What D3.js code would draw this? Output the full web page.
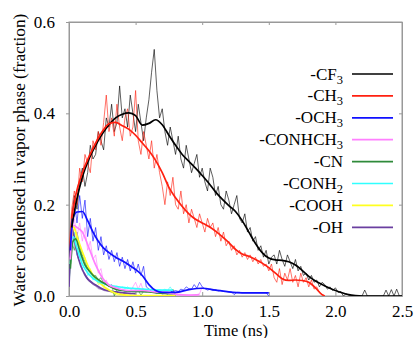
<!DOCTYPE html>
<html><head><meta charset="utf-8">
<script src="https://cdn.jsdelivr.net/npm/d3@7"></script>
<style>body{margin:0;background:#fff}svg{display:block}text{font-family:"Liberation Serif","Times New Roman","DejaVu Serif",serif;fill:#000}</style>
</head><body><svg id="c" width="414" height="338"></svg>
<script>
// ---- data ----
const xTicks = [0.0, 0.5, 1.0, 1.5, 2.0, 2.5];
const yTicks = [0.0, 0.2, 0.4, 0.6];
const seriesNames = ["-CF", "-CH", "-OCH", "-CONHCH", "-CN", "-CONH", "-COOH", "-OH"];
const seriesSubs = ["3", "3", "3", "3", "", "2", "", ""];
const seriesColors = ["#000000", "#ff2010", "#1010ff", "#ff80ff", "#2f8a3a", "#30ffff", "#ffff20", "#6a3fa0"];
const rawStep = 0.02;
// raw (sampled every 0.02 ns from t = 0)
const rawCF3 = [0.08,0.17,0.22,0.19,0.25,0.28,0.24,0.27,0.33,0.30,0.31,0.36,0.34,0.32,0.39,0.37,0.42,0.36,0.38,0.46,
  0.39,0.41,0.37,0.44,0.40,0.36,0.42,0.38,0.34,0.39,0.43,0.49,0.54,0.45,0.39,0.41,0.36,0.33,0.37,0.34,
  0.31,0.35,0.30,0.28,0.33,0.30,0.27,0.29,0.31,0.26,0.28,0.25,0.23,0.28,0.26,0.22,0.24,0.20,0.19,0.23,
  0.21,0.18,0.20,0.22,0.17,0.16,0.18,0.14,0.15,0.12,0.13,0.10,0.11,0.085,0.10,0.07,0.085,0.09,0.07,0.10,
  0.08,0.065,0.09,0.075,0.06,0.08,0.055,0.065,0.045,0.05,0.035,0.045,0.03,0.035,0.02,0.03,0.025,0.015,0.02,0.012,
  0.018,0.008,0.01,0.0,0.005,0.002,0.0,0.0,0.0,0.0,0.0,0.013,0.0,0.0,0.0,0.0,0.0,0.0,0.0,0.013,
  0.0,0.014,0.0,0.015,0.0,0.0];
const rawCH3 = [0.10,0.19,0.23,0.20,0.28,0.25,0.31,0.29,0.27,0.34,0.32,0.36,0.33,0.38,0.44,0.36,0.39,0.35,0.42,0.37,
  0.34,0.39,0.41,0.35,0.37,0.45,0.34,0.31,0.36,0.33,0.30,0.34,0.28,0.31,0.27,0.24,0.20,0.25,0.22,0.26,
  0.20,0.19,0.23,0.18,0.20,0.16,0.19,0.17,0.15,0.18,0.16,0.14,0.17,0.15,0.16,0.13,0.15,0.12,0.14,0.11,
  0.12,0.10,0.11,0.09,0.10,0.085,0.095,0.08,0.09,0.075,0.085,0.07,0.08,0.065,0.07,0.055,0.07,0.04,0.03,0.06,
  0.025,0.05,0.035,0.06,0.03,0.045,0.02,0.05,0.03,0.04,0.02,0.035,0.015,0.02,0.008,0.003,0.0];
const rawOCH3 = [0.03,0.17,0.21,0.16,0.22,0.17,0.21,0.13,0.17,0.12,0.15,0.10,0.13,0.09,0.11,0.08,0.10,0.075,0.095,0.065,
  0.085,0.06,0.08,0.055,0.075,0.05,0.07,0.045,0.065,0.02,0.015,0.01,0.008,0.005,0.008,0.004,0.006,0.004,0.008,0.01,
  0.012,0.01,0.015,0.013,0.02,0.016,0.015,0.025,0.017,0.03,0.02,0.016,0.013,0.015,0.012,0.014,0.011,0.012,0.01,0.01,
  0.009,0.009,0.003,0.008,0.008,0.007,0.007,0.007,0.007,0.007,0.007,0.007,0.007,0.007,0.007,0.0];
const rawCONHCH3 = [0.02,0.15,0.17,0.13,0.16,0.12,0.15,0.10,0.12,0.08,0.09,0.05,0.06,0.03,0.035,0.02,0.025,0.015,0.02,0.012,
  0.015,0.01,0.012,0.008,0.02,0.03,0.015,0.028,0.01,0.012,0.008,0.01,0.006,0.01,0.007,0.01,0.005,0.008,0.005,0.01,
  0.003,0.002,0.002,0.002,0.002,0.002,0.002,0.002,0.002,0.005,0.02];
const rawCN = [0.03,0.12,0.10,0.14,0.11,0.09,0.075,0.06,0.055,0.045,0.045,0.035,0.04,0.028,0.03,0.02,0.025,0.0,0.015,0.012,
  0.013,0.01,0.012,0.01,0.011,0.009,0.012,0.002,0.01,0.009,0.01,0.008,0.01,0.008,0.009,0.006,0.006,0.005,0.005,0.015,0.0];
const rawCONH2 = [0.02,0.12,0.14,0.09,0.10,0.06,0.07,0.045,0.05,0.035,0.04,0.028,0.032,0.022,0.026,0.02,0.024,0.018,0.022,0.017,
  0.02,0.016,0.02,0.015,0.018,0.014,0.017,0.013,0.016,0.012,0.016,0.012,0.015,0.012,0.014,0.012,0.015,0.012,0.02,0.01];
const rawCOOH = [0.02,0.13,0.15,0.12,0.11,0.09,0.085,0.06,0.06,0.04,0.04,0.025,0.028,0.018,0.015,0.01,0.008,0.004,0.002,0.002,
  0.002,0.001,0.002,0.001,0.001,0.001,0.001,0.001,0.001,0.001,0.001,0.001,0.001,0.001,0.001,0.001,0.001,0.001,0.001,0.001,0.001];
const rawOH = [0.02,0.14,0.12,0.09,0.075,0.055,0.05,0.035,0.03,0.025,0.022,0.016,0.015,0.012,0.011,0.01,0.009,0.008,0.01,0.006,
  0.004,0.006,0.005,0.004,0.005,0.004];
// smoothed curves: [time, fraction]
const smCF3 = [[0.02,0.15],[0.05,0.20],[0.1,0.26],[0.15,0.30],[0.2,0.33],[0.25,0.355],[0.3,0.375],[0.35,0.39],[0.4,0.398],[0.45,0.401],
  [0.5,0.395],[0.55,0.374],[0.6,0.378],[0.65,0.386],[0.7,0.375],[0.75,0.352],[0.8,0.33],[0.85,0.31],[0.9,0.295],[0.95,0.28],
  [1.0,0.264],[1.05,0.247],[1.1,0.228],[1.15,0.212],[1.2,0.198],[1.25,0.185],[1.3,0.165],[1.35,0.14],[1.4,0.115],[1.45,0.095],
  [1.5,0.083],[1.55,0.079],[1.6,0.078],[1.65,0.075],[1.7,0.068],[1.75,0.056],[1.8,0.043],[1.85,0.033],[1.9,0.025],[1.95,0.018],
  [2.0,0.012],[2.05,0.007],[2.1,0.003],[2.15,0.001],[2.2,0.0],[2.5,0.0]];
const smCH3 = [[0.02,0.17],[0.05,0.22],[0.1,0.27],[0.15,0.305],[0.2,0.335],[0.25,0.36],[0.3,0.377],[0.35,0.38],[0.4,0.373],[0.45,0.365],
  [0.5,0.352],[0.55,0.335],[0.6,0.318],[0.65,0.297],[0.7,0.27],[0.75,0.238],[0.8,0.215],[0.85,0.196],[0.9,0.18],[0.95,0.168],
  [1.0,0.16],[1.05,0.152],[1.1,0.142],[1.15,0.13],[1.2,0.117],[1.25,0.102],[1.3,0.092],[1.35,0.087],[1.4,0.08],[1.45,0.072],
  [1.5,0.062],[1.55,0.05],[1.6,0.038],[1.65,0.034],[1.7,0.035],[1.75,0.034],[1.8,0.03],[1.85,0.018],[1.9,0.003],[1.92,0.0]];
const smOCH3 = [[0.01,0.10],[0.03,0.17],[0.06,0.184],[0.1,0.185],[0.14,0.165],[0.18,0.14],[0.22,0.12],[0.26,0.105],[0.3,0.095],[0.35,0.085],
  [0.4,0.077],[0.45,0.068],[0.5,0.058],[0.55,0.045],[0.6,0.025],[0.65,0.012],[0.7,0.008],[0.8,0.008],[0.9,0.014],[1.0,0.017],
  [1.1,0.013],[1.2,0.009],[1.3,0.007],[1.5,0.007]];
const smCONHCH3 = [[0.01,0.08],[0.03,0.155],[0.06,0.15],[0.1,0.14],[0.15,0.105],[0.2,0.068],[0.25,0.04],[0.3,0.024],[0.35,0.018],[0.45,0.012],
  [0.55,0.012],[0.65,0.009],[0.75,0.007],[0.8,0.004],[0.9,0.002],[0.98,0.003]];
const smCN = [[0.01,0.06],[0.03,0.12],[0.05,0.125],[0.08,0.10],[0.12,0.068],[0.16,0.052],[0.2,0.04],[0.25,0.03],[0.3,0.022],[0.35,0.015],
  [0.4,0.012],[0.5,0.01],[0.6,0.009],[0.7,0.006],[0.8,0.005]];
const smCONH2 = [[0.01,0.07],[0.03,0.13],[0.06,0.105],[0.1,0.07],[0.15,0.047],[0.2,0.035],[0.3,0.024],[0.4,0.019],[0.5,0.016],[0.6,0.014],
  [0.7,0.013],[0.78,0.013]];
const smCOOH = [[0.01,0.07],[0.035,0.152],[0.06,0.13],[0.1,0.097],[0.15,0.061],[0.2,0.038],[0.25,0.024],[0.3,0.013],[0.35,0.006],[0.4,0.003],
  [0.5,0.001],[0.8,0.001]];
const smOH = [[0.0,0.02],[0.023,0.148],[0.05,0.11],[0.07,0.083],[0.12,0.046],[0.2,0.024],[0.27,0.013],[0.35,0.009],[0.45,0.006],[0.5,0.005]];

const rawAll = [rawCF3, rawCH3, rawOCH3, rawCONHCH3, rawCN, rawCONH2, rawCOOH, rawOH];
const smAll = [smCF3, smCH3, smOCH3, smCONHCH3, smCN, smCONH2, smCOOH, smOH];

// ---- chart ----
const FONT = '"Liberation Serif","Times New Roman","DejaVu Serif",serif';
const svg = d3.select("#c");
const L = 69, R = 402, T = 22, B = 296;
const x = d3.scaleLinear().domain([0, 2.5]).range([L, R]);
const y = d3.scaleLinear().domain([0, 0.6]).range([B, T]);

svg.append("clipPath").attr("id", "clip").append("rect")
  .attr("x", L).attr("y", T - 2).attr("width", R - L).attr("height", B - T + 2);

svg.append("rect").attr("x", L).attr("y", T).attr("width", R - L).attr("height", B - T)
  .attr("fill", "none").attr("stroke", "#999").attr("stroke-width", 1);

const gx = svg.append("g").attr("transform", `translate(0,${B})`)
  .call(d3.axisBottom(x).tickValues(xTicks).tickFormat(d3.format(".1f")).tickSizeInner(-4).tickSizeOuter(0).tickPadding(9));
const gy = svg.append("g").attr("transform", `translate(${L},0)`)
  .call(d3.axisLeft(y).tickValues(yTicks).tickFormat(d3.format(".1f")).tickSizeInner(3).tickSizeOuter(0).tickPadding(11));
const gr = svg.append("g").attr("transform", `translate(${R},0)`)
  .call(d3.axisRight(y).tickValues(yTicks).tickFormat("").tickSizeInner(-3).tickSizeOuter(0));
const gt = svg.append("g").attr("transform", `translate(0,${T})`)
  .call(d3.axisTop(x).tickValues(xTicks).tickFormat("").tickSizeInner(-3).tickSizeOuter(0));
[gx, gy, gr, gt].forEach(g => {
  g.attr("font-family", FONT);
  g.select(".domain").attr("stroke", "#999");
  g.selectAll(".tick line").attr("stroke", "#999");
  g.selectAll("text").style("font-family", FONT).style("font-size", "17px").attr("fill", "#000");
});

svg.append("text").attr("x", 236).attr("y", 335.5).attr("text-anchor", "middle")
  .style("font-family", FONT).style("font-size", "16.5px").text("Time (ns)");
svg.append("text").attr("transform", `translate(25,160) rotate(-90)`).attr("text-anchor", "middle")
  .style("font-family", FONT).style("font-size", "17.3px").text("Water condensed in vapor phase (fraction)");

const plot = svg.append("g").attr("clip-path", "url(#clip)");
const rawLine = d3.line().x((d, i) => x(i * rawStep)).y(d => y(d));
const smLine = d3.line().x(d => x(d[0])).y(d => y(d[1])).curve(d3.curveMonotoneX);

const order = [7, 6, 5, 4, 3, 2, 0, 1];
order.forEach(k => {
  plot.append("path").datum(rawAll[k]).attr("d", rawLine)
    .attr("fill", "none").attr("stroke", seriesColors[k]).attr("stroke-width", 0.9).attr("stroke-opacity", 0.7);
});
order.forEach(k => {
  plot.append("path").datum(smAll[k]).attr("d", smLine)
    .attr("fill", "none").attr("stroke", seriesColors[k]).attr("stroke-width", 1.7);
});

// legend
const lg = svg.append("g");
seriesNames.forEach((n, i) => {
  const yy = 74 + i * 21.9;
  lg.append("line").attr("x1", 352).attr("x2", 393).attr("y1", yy).attr("y2", yy)
    .attr("stroke", seriesColors[i]).attr("stroke-width", 1.7);
  const t = lg.append("text").attr("x", 343).attr("y", yy + 5.5).attr("text-anchor", "end")
    .style("font-family", FONT).style("font-size", "17px");
  t.append("tspan").text(n);
  if (seriesSubs[i]) t.append("tspan").attr("dy", 4).style("font-size", "12.5px").text(seriesSubs[i]);
});
</script></body></html>
